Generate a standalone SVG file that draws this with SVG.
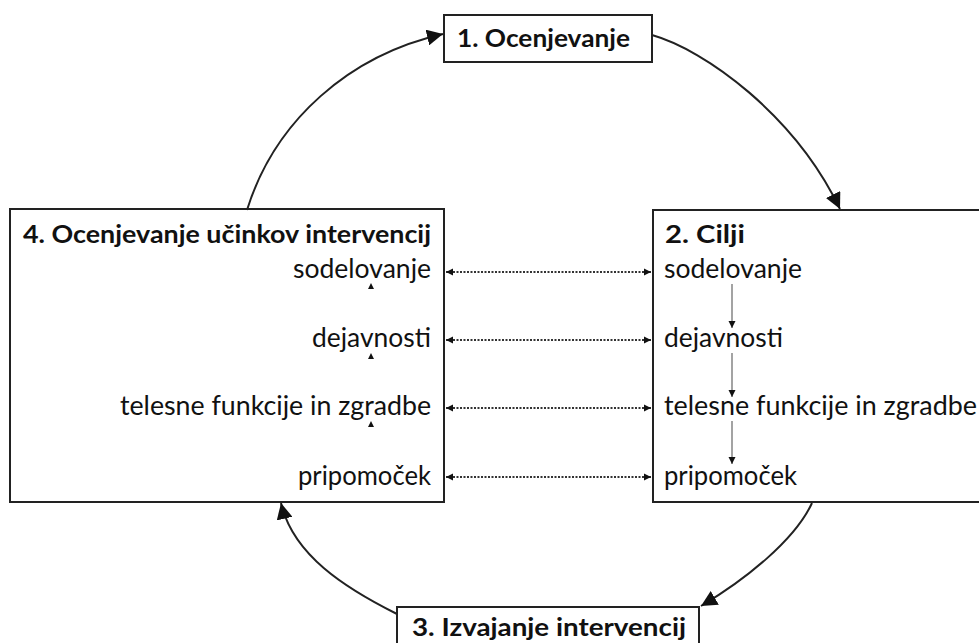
<svg xmlns="http://www.w3.org/2000/svg" width="979" height="643" viewBox="0 0 979 643">
<style>
.box{fill:#fff;stroke:#222;stroke-width:2}
.t{font-family:Lato,"Liberation Sans",sans-serif;font-size:26px;fill:#111}
.b{font-weight:bold;font-size:25px}
.r{text-anchor:end}
.arc{fill:none;stroke:#222;stroke-width:2}
.dot{fill:none;stroke:#333;stroke-width:1.8;stroke-dasharray:2 1.5}
.thin{fill:none;stroke:#666;stroke-width:1.2}
</style>
<defs>
<marker id="big" markerUnits="userSpaceOnUse" markerWidth="18" markerHeight="16" refX="16" refY="8" orient="auto"><path d="M0,0 L16,8 L0,16 Z" fill="#111"/></marker>
<marker id="sm" markerUnits="userSpaceOnUse" markerWidth="8" markerHeight="8" refX="7" refY="4" orient="auto-start-reverse"><path d="M0,0.5 L7,4 L0,7.5 Z" fill="#111"/></marker>
</defs>
<g id="n1"><rect class="box" x="444" y="15" width="208" height="47"/><text class="t b" x="457" y="47" textLength="173" lengthAdjust="spacingAndGlyphs">1. Ocenjevanje</text></g>
<g id="n2"><rect class="box" x="653" y="210" width="330" height="292"/>
<text class="t b" x="665" y="243" textLength="80" lengthAdjust="spacingAndGlyphs">2. Cilji</text>
<text class="t" x="664" y="278" textLength="138" lengthAdjust="spacingAndGlyphs">sodelovanje</text>
<text class="t" x="664" y="347" textLength="119" lengthAdjust="spacingAndGlyphs">dejavnosti</text>
<text class="t" x="664" y="415" textLength="313" lengthAdjust="spacingAndGlyphs">telesne funkcije in zgradbe</text>
<text class="t" x="664" y="485" textLength="133" lengthAdjust="spacingAndGlyphs">pripomoček</text></g>
<g id="n4"><rect class="box" x="10" y="209" width="434" height="293"/>
<text class="t b" x="23" y="243" textLength="408" lengthAdjust="spacingAndGlyphs">4. Ocenjevanje učinkov intervencij</text>
<text class="t r" x="431" y="278" textLength="138" lengthAdjust="spacingAndGlyphs">sodelovanje</text>
<text class="t r" x="431" y="347" textLength="119" lengthAdjust="spacingAndGlyphs">dejavnosti</text>
<text class="t r" x="431" y="415" textLength="311" lengthAdjust="spacingAndGlyphs">telesne funkcije in zgradbe</text>
<text class="t r" x="431" y="485" textLength="133" lengthAdjust="spacingAndGlyphs">pripomoček</text></g>
<g id="n3"><rect class="box" x="397" y="607" width="302" height="50"/><text class="t b" x="412" y="636" textLength="274" lengthAdjust="spacingAndGlyphs">3. Izvajanje intervencij</text></g>
<g id="connectors">
<path class="arc" d="M247,210 C275,120 350,55 443,34" marker-end="url(#big)"/>
<path class="arc" d="M652,35 C705,50 795,115 840,209" marker-end="url(#big)"/>
<path class="arc" d="M812,503 C795,540 745,580 701,606" marker-end="url(#big)"/>
<path class="arc" d="M397,614 C345,588 293,555 281,503" marker-end="url(#big)"/>
<path class="dot" d="M446,272 L651,272" marker-start="url(#sm)" marker-end="url(#sm)"/>
<path class="dot" d="M446,340 L651,340" marker-start="url(#sm)" marker-end="url(#sm)"/>
<path class="dot" d="M446,408 L651,408" marker-start="url(#sm)" marker-end="url(#sm)"/>
<path class="dot" d="M446,477 L651,477" marker-start="url(#sm)" marker-end="url(#sm)"/>
<path class="thin" d="M732,284 L732,328" marker-end="url(#sm)"/>
<path class="thin" d="M732,353 L732,397" marker-end="url(#sm)"/>
<path class="thin" d="M732,421 L732,464" marker-end="url(#sm)"/>
<path d="M368,289 L371,283 L374,289 Z M368,359 L371,353 L374,359 Z M368,427 L371,421 L374,427 Z" fill="#111"/>
</g>
</svg>
